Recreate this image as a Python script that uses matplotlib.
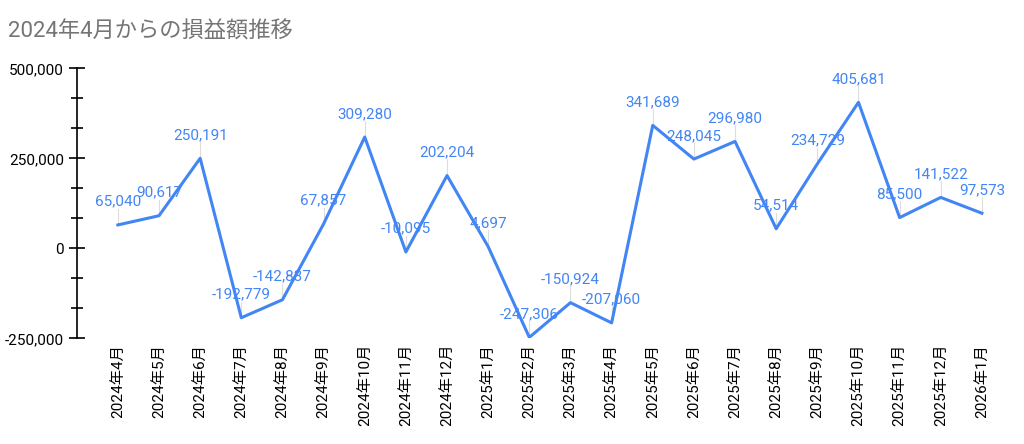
import numpy as np
import matplotlib
matplotlib.use("Agg")
import matplotlib.pyplot as plt
from matplotlib.ticker import MultipleLocator, FuncFormatter

plt.rcParams['font.family'] = ['Roboto', 'Noto Sans CJK JP', 'DejaVu Sans']

months = ["2024年4月", "2024年5月", "2024年6月", "2024年7月", "2024年8月", "2024年9月",
          "2024年10月", "2024年11月", "2024年12月", "2025年1月", "2025年2月", "2025年3月",
          "2025年4月", "2025年5月", "2025年6月", "2025年7月", "2025年8月", "2025年9月",
          "2025年10月", "2025年11月", "2025年12月", "2026年1月"]
profit = [65040, 90617, 250191, -192779, -142837, 67857, 309280, -10095, 202204, 4697,
          -247306, -150924, -207060, 341689, 248045, 296980, 54514, 234729, 405681,
          85500, 141522, 97573]

blue = "#4285f4"
fig = plt.figure(figsize=(10.24, 4.44), dpi=100)
ax = fig.add_axes([0.093, 0.238, 0.888, 0.608])
x = np.arange(len(months))
ax.plot(x, profit, color=blue, lw=2.2)

for xi, v in zip(x, profit):
    ax.plot([xi, xi], [v, v + 45000], color="#dddddd", lw=0.8, zorder=0)
    ax.annotate(f"{v:,}", (xi, v + 45000), ha="center", va="bottom",
                color=blue, fontsize=11)

ax.set_xlim(-0.55, len(months) - 0.45)
ax.set_ylim(-250000, 500000)
ax.yaxis.set_major_locator(MultipleLocator(250000))
ax.yaxis.set_minor_locator(MultipleLocator(250000 / 3))
ax.yaxis.set_major_formatter(FuncFormatter(lambda v, p: f"{int(v):,}"))
ax.tick_params(axis="y", which="major", direction="inout", length=12, width=1.2, labelsize=11)
ax.tick_params(axis="y", which="minor", direction="inout", length=8, width=1.2)
ax.set_xticks(x)
ax.set_xticklabels(months, rotation=90, fontsize=11)
ax.tick_params(axis="x", length=0, pad=4)
for s in ["top", "right", "bottom"]:
    ax.spines[s].set_visible(False)
ax.spines["left"].set_linewidth(1.2)
ax.spines["left"].set_position(("axes", -0.02))

fig.text(0.008, 0.915, "2024年4月からの損益額推移", fontsize=16, color="#757575")
fig.savefig("out.png", dpi=100)
